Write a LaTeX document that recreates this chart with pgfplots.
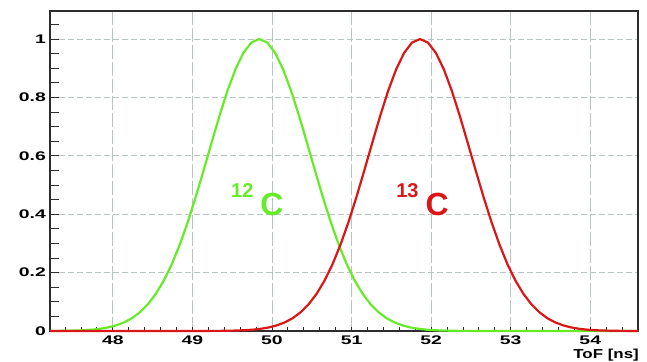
\documentclass[border=0pt]{standalone}
\usepackage{fontspec}
\setmainfont{Liberation Sans}
\usepackage{graphicx}
\usepackage{pgfplots}
\pgfplotsset{compat=1.18}

\definecolor{cgreen}{RGB}{102,235,40}
\definecolor{cred}{RGB}{218,22,22}
\definecolor{gridc}{RGB}{184,196,196}
\definecolor{framec}{RGB}{45,45,45}

% wide bold tick labels
\newcommand{\tl}[1]{\scalebox{1.55}[1]{\fontsize{12.5}{12.5}\selectfont\bfseries #1}}
% isotope label: mass number raised before the element symbol
\newcommand{\iso}[2]{\bfseries\raisebox{18pt}{\fontsize{20}{20}\selectfont #1}\hspace{7pt}{\fontsize{32}{32}\selectfont #2}}

\begin{document}
\begin{tikzpicture}
\useasboundingbox (0,0) rectangle (647pt,361pt);
\begin{axis}[
  at={(50pt,30pt)}, anchor=south west,
  scale only axis, width=588pt, height=320pt,
  xmin=47.21, xmax=54.6, ymin=0, ymax=1.096,
  clip=false,
  axis line style={framec, line width=1.3pt},
  tick align=inside, tick pos=left,
  xtick={48,49,50,51,52,53,54},
  xticklabels={\tl{48},\tl{49},\tl{50},\tl{51},\tl{52},\tl{53},\tl{54}},
  minor xtick={47.4,47.6,47.8,48.2,48.4,48.6,48.8,49.2,49.4,49.6,49.8,50.2,50.4,50.6,50.8,51.2,51.4,51.6,51.8,52.2,52.4,52.6,52.8,53.2,53.4,53.6,53.8,54.2,54.4},
  ytick={0,0.2,0.4,0.6,0.8,1},
  yticklabels={\tl{0},\tl{0.2},\tl{0.4},\tl{0.6},\tl{0.8},\tl{1}},
  minor ytick={0.05,0.1,0.15,0.25,0.3,0.35,0.45,0.5,0.55,0.65,0.7,0.75,0.85,0.9,0.95,1.05},
  major tick length=9pt, minor tick length=9pt,
  xtick style={/pgfplots/major tick length=4pt,/pgfplots/minor tick length=4pt},
  every tick/.style={framec, line width=0.9pt},
  xticklabel style={anchor=north, inner sep=0pt, yshift=-5pt},
  yticklabel style={anchor=east, inner sep=0pt, xshift=-4pt},
  xmajorgrids, ymajorgrids,
  x grid style={gridc, line width=0.9pt, dash pattern=on 14pt off 3pt},
  y grid style={gridc, line width=0.9pt, dash pattern=on 6pt off 3pt},
]
% 12C time-of-flight peak
\addplot[cgreen, line width=2.2pt] coordinates {
(47.21,0) (47.34,0.0005) (47.54,0.0016) (47.64,0.0027) (47.74,0.0046)
(47.84,0.0076) (47.94,0.0122) (48.04,0.0192) (48.14,0.0294) (48.24,0.0439)
(48.34,0.0642) (48.44,0.0914) (48.54,0.1271) (48.64,0.1724) (48.74,0.2283)
(48.84,0.2950) (48.94,0.3720) (49.04,0.4578) (49.14,0.5498) (49.24,0.6444)
(49.34,0.7370) (49.44,0.8226) (49.54,0.8960) (49.64,0.9524) (49.74,0.9879)
(49.84,1.0000) (49.94,0.9879) (50.04,0.9524) (50.14,0.8960) (50.24,0.8226)
(50.34,0.7370) (50.44,0.6444) (50.54,0.5498) (50.64,0.4578) (50.74,0.3720)
(50.84,0.2950) (50.94,0.2283) (51.04,0.1724) (51.14,0.1271) (51.24,0.0914)
(51.34,0.0642) (51.44,0.0439) (51.54,0.0294) (51.64,0.0192) (51.74,0.0122)
(51.84,0.0076) (51.94,0.0046) (52.04,0.0027) (52.14,0.0016) (52.34,0.0005)
(52.84,0) (54.6,0)
};
% 13C time-of-flight peak
\addplot[cred, line width=2.2pt] coordinates {
(47.21,0) (48.86,0) (49.36,0.0005) (49.56,0.0016) (49.66,0.0027)
(49.76,0.0046) (49.86,0.0076) (49.96,0.0122) (50.06,0.0192) (50.16,0.0294)
(50.26,0.0439) (50.36,0.0642) (50.46,0.0914) (50.56,0.1271) (50.66,0.1724)
(50.76,0.2283) (50.86,0.2950) (50.96,0.3720) (51.06,0.4578) (51.16,0.5498)
(51.26,0.6444) (51.36,0.7370) (51.46,0.8226) (51.56,0.8960) (51.66,0.9524)
(51.76,0.9879) (51.86,1.0000) (51.96,0.9879) (52.06,0.9524) (52.16,0.8960)
(52.26,0.8226) (52.36,0.7370) (52.46,0.6444) (52.56,0.5498) (52.66,0.4578)
(52.76,0.3720) (52.86,0.2950) (52.96,0.2283) (53.06,0.1724) (53.16,0.1271)
(53.26,0.0914) (53.36,0.0642) (53.46,0.0439) (53.56,0.0294) (53.66,0.0192)
(53.76,0.0122) (53.86,0.0076) (53.96,0.0046) (54.06,0.0027) (54.16,0.0016)
(54.36,0.0005) (54.6,0.0001)
};
\node[anchor=base, text=cgreen, inner sep=0pt] at (axis cs:49.816,0.397) {\iso{12}{C}};
\node[anchor=base, text=cred, inner sep=0pt] at (axis cs:51.891,0.397) {\iso{13}{C}};
\node[anchor=north east, inner sep=0pt] at ([xshift=1pt,yshift=-17.5pt]rel axis cs:1,0)
  {\scalebox{1.3}[1]{\fontsize{13}{13}\selectfont\bfseries ToF [ns]}};
\end{axis}
\end{tikzpicture}
\end{document}
